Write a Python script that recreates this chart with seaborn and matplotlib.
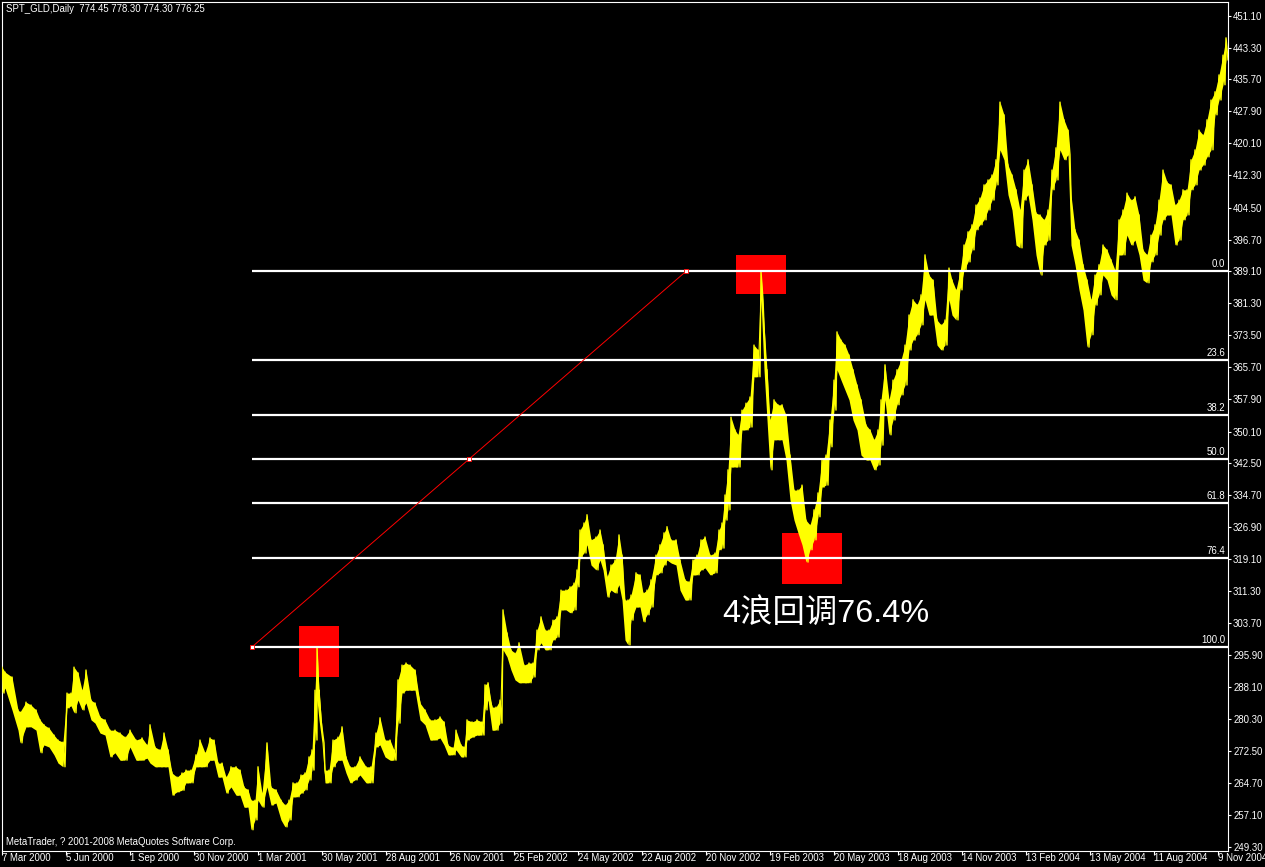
import numpy as np
import pandas as pd
import matplotlib
matplotlib.use("Agg")
import matplotlib.pyplot as plt
import seaborn as sns
from matplotlib.patches import Rectangle

# ---------------- data ----------------
bar = [2, 5, 12, 18, 20, 26, 31, 36, 40, 44, 49, 54, 58, 63, 67, 71, 74, 78, 82, 86,
       91, 95, 100, 105, 110, 115, 120, 125, 130, 136, 142, 147, 150, 155, 160, 164, 168, 172, 177, 182,
       186, 191, 196, 200, 205, 210, 214, 218, 222, 226, 231, 236, 240, 244, 248, 251, 255, 258, 262, 267,
       271, 276, 281, 285, 289, 293, 297, 301, 305, 309, 312, 315, 317, 319, 322, 325, 329, 333, 338, 342,
       346, 350, 355, 360, 366, 371, 376, 380, 385, 390, 394, 398, 402, 406, 410, 415, 420, 425, 430, 435,
       440, 444, 448, 453, 456, 461, 464, 467, 472, 477, 482, 485, 488, 492, 496, 500, 503, 507, 511, 515,
       519, 524, 529, 533, 537, 541, 545, 549, 553, 557, 561, 566, 570, 574, 577, 580, 584, 587, 591, 596,
       600, 603, 607, 611, 615, 619, 622, 625, 628, 631, 636, 640, 643, 647, 651, 656, 660, 664, 667, 671,
       676, 680, 685, 689, 693, 697, 701, 705, 710, 715, 719, 722, 725, 728, 731, 735, 738, 742, 746, 750,
       754, 758, 761, 764, 767, 770, 774, 778, 782, 786, 790, 794, 798, 802, 806, 810, 814, 818, 822, 826,
       830, 834, 837, 841, 845, 849, 853, 857, 861, 866, 870, 874, 878, 881, 885, 889, 893, 897, 901, 905,
       909, 913, 917, 921, 925, 929, 933, 937, 941, 945, 949, 952, 956, 960, 964, 968, 972, 976, 980, 984,
       988, 992, 996, 1000, 1004, 1008, 1012, 1016, 1020, 1024, 1028, 1032, 1036, 1040, 1044, 1048, 1052, 1056, 1060, 1064,
       1068, 1071, 1075, 1079, 1083, 1087, 1091, 1095, 1099, 1103, 1107, 1111, 1115, 1119, 1123, 1127, 1131, 1135, 1139, 1143,
       1147, 1151, 1155, 1159, 1163, 1167, 1171, 1175, 1179, 1183, 1187, 1191, 1195, 1199, 1203, 1207, 1211, 1215, 1219, 1223,
       1226]

high = [292.9, 291.7, 290.5, 282.5, 282.0, 284.4, 283.7, 282.5, 280.1, 278.9, 278.1, 276.4, 275.2, 274.7, 286.6, 286.6, 292.9, 291.5, 287.3, 292.2,
        284.9, 284.2, 280.8, 280.1, 277.6, 277.6, 276.9, 275.9, 277.6, 275.2, 275.7, 274.0, 278.9, 273.5, 272.8, 276.9, 272.8, 267.2, 266.2, 267.2,
        267.9, 267.9, 271.6, 275.2, 272.1, 275.7, 275.2, 269.6, 269.6, 266.2, 268.7, 268.7, 267.9, 263.8, 263.1, 260.6, 260.6, 268.7, 262.3, 274.5,
        263.8, 263.1, 260.6, 259.4, 260.6, 264.8, 264.8, 266.7, 267.2, 271.1, 272.8, 287.3, 297.8, 287.3, 278.1, 267.9, 267.9, 275.2, 275.9, 278.4,
        271.1, 268.7, 268.7, 271.1, 268.7, 268.7, 276.9, 280.6, 275.2, 275.2, 272.8, 289.8, 293.4, 293.9, 293.4, 292.2, 284.2, 282.5, 280.1, 280.1,
        280.8, 279.6, 274.0, 273.3, 277.6, 274.0, 273.5, 280.1, 279.6, 280.1, 279.6, 288.6, 289.1, 283.2, 283.2, 284.9, 306.8, 301.2, 297.1, 296.3,
        298.8, 293.4, 293.9, 293.9, 301.9, 305.1, 301.9, 301.9, 304.3, 305.1, 311.6, 311.6, 312.4, 313.3, 316.5, 326.2, 327.9, 329.9, 323.8, 324.5,
        326.2, 322.6, 314.8, 317.7, 318.9, 325.0, 320.1, 309.2, 309.2, 310.4, 315.8, 315.3, 310.9, 311.6, 314.1, 320.1, 322.6, 325.5, 327.0, 323.8,
        323.8, 318.9, 314.1, 313.6, 318.9, 320.1, 323.8, 324.5, 320.1, 320.6, 326.2, 327.9, 334.7, 340.8, 353.6, 350.5, 349.3, 355.3, 357.0, 358.5,
        371.1, 369.9, 388.9, 376.0, 365.1, 352.9, 357.8, 356.6, 356.6, 354.1, 344.4, 335.9, 335.9, 337.1, 328.6, 327.4, 331.1, 335.2, 343.2, 344.4,
        352.9, 362.6, 374.3, 372.3, 371.1, 368.7, 365.1, 361.4, 357.8, 351.7, 350.5, 348.1, 350.5, 357.8, 366.3, 357.8, 362.6, 365.1, 367.5, 371.1,
        378.4, 382.1, 380.9, 383.3, 393.0, 388.1, 386.9, 377.2, 376.0, 377.2, 389.8, 386.9, 384.5, 388.9, 395.4, 398.6, 400.3, 405.1, 406.8, 410.0,
        411.2, 412.4, 416.1, 430.1, 427.0, 414.8, 412.4, 408.8, 403.9, 413.6, 416.1, 410.0, 403.2, 402.7, 401.5, 403.9, 413.6, 419.0, 430.1, 425.8,
        423.3, 407.6, 399.1, 396.6, 390.6, 386.9, 382.1, 388.1, 390.6, 395.4, 394.2, 391.8, 389.3, 401.5, 403.9, 408.0, 406.3, 407.1, 402.7, 394.2,
        393.0, 397.8, 400.3, 406.3, 413.6, 410.7, 410.0, 405.1, 406.3, 408.8, 408.8, 416.1, 418.5, 423.3, 422.1, 425.8, 430.6, 432.6, 436.7, 441.5,
        445.7]

low = [286.6, 287.8, 282.5, 277.6, 274.5, 278.4, 278.4, 277.6, 272.1, 274.0, 273.5, 271.6, 269.6, 268.7, 283.0, 283.5, 281.8, 284.9, 282.5, 284.2,
       280.1, 279.3, 276.9, 276.4, 271.1, 272.1, 270.3, 270.3, 273.5, 270.3, 270.3, 270.8, 269.6, 268.7, 268.7, 268.7, 268.7, 261.8, 262.6, 263.0,
       264.8, 264.8, 268.7, 268.7, 268.7, 270.3, 270.3, 266.2, 266.2, 262.3, 263.8, 261.8, 261.8, 258.9, 258.9, 253.4, 255.8, 260.6, 258.9, 263.8,
       259.4, 259.9, 255.8, 254.1, 255.8, 261.4, 261.4, 262.3, 263.1, 265.5, 267.9, 275.2, 284.9, 280.1, 274.5, 264.8, 264.8, 268.7, 270.3, 270.3,
       267.2, 264.8, 265.5, 266.7, 264.8, 264.8, 273.5, 274.0, 271.1, 270.3, 270.3, 279.3, 286.6, 287.3, 287.3, 287.3, 280.1, 278.9, 275.2, 275.2,
       275.7, 274.0, 271.6, 271.6, 272.8, 271.1, 271.1, 275.2, 275.9, 276.4, 276.4, 282.5, 284.9, 277.6, 277.6, 279.3, 297.1, 295.4, 292.2, 289.8,
       289.1, 289.1, 289.1, 290.5, 297.1, 298.8, 297.1, 297.1, 299.5, 300.2, 306.8, 306.8, 306.1, 306.8, 312.4, 319.6, 320.6, 322.6, 317.7, 316.5,
       318.9, 316.5, 309.9, 311.6, 310.9, 312.9, 309.2, 299.5, 298.3, 304.3, 307.5, 307.5, 303.9, 305.6, 307.5, 315.3, 315.8, 317.7, 318.9, 318.2,
       317.7, 311.6, 309.2, 309.2, 315.3, 315.3, 316.5, 317.0, 315.3, 315.8, 321.4, 321.8, 328.6, 331.1, 341.5, 341.5, 341.5, 350.5, 350.5, 351.2,
       363.4, 363.4, 382.1, 365.1, 352.9, 340.8, 348.1, 348.1, 348.1, 343.2, 333.5, 328.6, 325.5, 322.6, 318.4, 321.4, 323.8, 329.4, 336.6, 337.1,
       346.4, 355.3, 365.1, 362.6, 360.2, 357.8, 352.9, 350.5, 344.4, 343.2, 343.2, 340.8, 342.0, 346.8, 357.8, 349.3, 352.9, 356.6, 359.0, 361.4,
       369.9, 372.3, 373.6, 376.0, 382.1, 378.4, 378.4, 371.1, 369.9, 371.1, 382.1, 378.4, 377.2, 384.5, 389.3, 391.3, 394.2, 399.1, 400.3, 401.5,
       403.9, 406.3, 410.0, 418.5, 416.1, 407.6, 403.9, 395.4, 394.7, 406.3, 407.6, 401.5, 393.0, 388.1, 395.4, 396.6, 408.8, 411.2, 418.5, 416.1,
       417.3, 395.4, 390.6, 384.5, 379.6, 370.6, 373.6, 380.8, 383.3, 388.1, 386.9, 383.3, 382.1, 393.0, 393.0, 397.8, 395.4, 396.6, 393.0, 386.9,
       386.2, 391.3, 393.0, 397.8, 401.5, 402.7, 402.7, 395.4, 396.6, 401.5, 402.7, 408.8, 410.0, 413.6, 414.8, 416.8, 418.5, 427.0, 430.6, 434.3,
       440.3]

date_labels = ["7 Mar 2000", "5 Jun 2000", "1 Sep 2000", "30 Nov 2000", "1 Mar 2001",
               "30 May 2001", "28 Aug 2001", "26 Nov 2001", "25 Feb 2002", "24 May 2002",
               "22 Aug 2002", "20 Nov 2002", "19 Feb 2003", "20 May 2003", "18 Aug 2003",
               "14 Nov 2003", "13 Feb 2004", "13 May 2004", "11 Aug 2004", "9 Nov 2004"]

price_ticks = [249.30, 257.10, 264.70, 272.50, 280.30, 288.10, 295.90, 303.70, 311.30,
               319.10, 326.90, 334.70, 342.50, 350.10, 357.90, 365.70, 373.50, 381.30,
               389.10, 396.70, 404.50, 412.30, 420.10, 427.90, 435.70, 443.30, 451.10]

fib_ratios = [0.0, 23.6, 38.2, 50.0, 61.8, 76.4, 100.0]
fib_high = 389.0          # 0.0 level
fib_low = 297.8           # 100.0 level
fib_start_bar = 252
fib_end_bar = 686

# highlight boxes: (centre bar, centre price, width in bars, height in price)
highlight_boxes = [(319, 296.7, 40, 12.4), (761, 388.25, 50, 9.5), (812, 319.35, 60, 12.3)]

title_text = "SPT_GLD,Daily  774.45 778.30 774.30 776.25"
copyright_text = "MetaTrader, ? 2001-2008 MetaQuotes Software Corp."
note_text = "4浪回调76.4%"

# ---------------- styling ----------------
sns.set_style("dark", rc={"axes.facecolor": "black", "figure.facecolor": "black",
                          "axes.edgecolor": "white", "axes.grid": False,
                          "xtick.color": "white", "ytick.color": "white",
                          "text.color": "white", "xtick.bottom": True, "ytick.right": True})
plt.rcParams["font.family"] = ["Liberation Sans", "Noto Sans CJK SC", "DejaVu Sans"]

W, H = 1265, 867
SMALL = 6.9
fig = plt.figure(figsize=(W / 100, H / 100), dpi=100, facecolor="black")
ax = fig.add_axes([2 / W, 16 / H, 1226 / W, 849 / H])
ax.set_facecolor("black")

# highlight boxes (below everything)
for cx, cp, wb, hp in highlight_boxes:
    ax.add_patch(Rectangle((cx - wb / 2, cp - hp / 2), wb, hp, facecolor="#ff0000",
                           edgecolor="none", zorder=1))

# price band
df = pd.DataFrame({"bar": bar, "high": high, "low": low})
ax.fill_between(df["bar"], df["low"], df["high"], color="#ffff00", lw=0, zorder=3)
zz = pd.DataFrame({
    "bar": np.ravel(np.column_stack([df["bar"], df["bar"] + 2])),
    "price": np.ravel(np.column_stack([df["high"], df["low"]])),
})
sns.lineplot(data=zz, x="bar", y="price", sort=False, estimator=None,
             color="#ffff00", lw=1.0, ax=ax, zorder=4)

# fibonacci levels
rng = fib_high - fib_low
for r in fib_ratios:
    lvl = fib_high - rng * r / 100.0
    ax.plot([fib_start_bar, 1228], [lvl, lvl], color="white", lw=1.6, zorder=5,
            solid_capstyle="butt")
    ax.text(1225, lvl + 0.5, f"{r:.1f}", ha="right", va="bottom", fontsize=SMALL,
            color="white", zorder=6)

# trend line of fib tool
tl = pd.DataFrame({"bar": [fib_start_bar, fib_end_bar], "price": [fib_low, fib_high]})
sns.lineplot(data=tl, x="bar", y="price", color="#ff0000", lw=0.7, ax=ax, zorder=6)
mid_bar = (fib_start_bar + fib_end_bar) / 2
ax.scatter([fib_start_bar, mid_bar, fib_end_bar],
           [fib_low, (fib_low + fib_high) / 2, fib_high],
           marker="s", s=9, facecolor="white", edgecolor="#ff0000", linewidths=0.6, zorder=7)

# annotation
ax.text(722, 303.9, note_text, fontsize=23.3, color="white", va="baseline", ha="left",
        family=["Liberation Sans", "Noto Sans CJK SC"], zorder=8)

# axes
ax.set_xlim(2, 1228)
ax.set_ylim(248.25, 454.4)
ax.set_xlabel("")
ax.set_ylabel("")
for s in ax.spines.values():
    s.set_color("white")
    s.set_linewidth(0.8)

ax.yaxis.tick_right()
ax.set_yticks(price_ticks, labels=[f"{v:.2f}" for v in price_ticks])
ax.tick_params(axis="y", which="major", right=True, left=False, length=2.2, width=0.8,
               pad=1.5, labelsize=SMALL, colors="white")
tick_pos = [2 + 64 * i for i in range(len(date_labels))]
ax.set_xticks(tick_pos, labels=date_labels, ha="left")
ax.tick_params(axis="x", which="major", bottom=True, length=3, width=0.8,
               pad=-1.5, labelsize=SMALL, colors="white")

fig.text(6 / W, 1 - 4 / H, title_text, ha="left", va="top", fontsize=SMALL, color="white")
ax.text(6, 249.6, copyright_text, ha="left", va="baseline", fontsize=SMALL, color="white")

fig.savefig("out.png", dpi=100, facecolor="black")
